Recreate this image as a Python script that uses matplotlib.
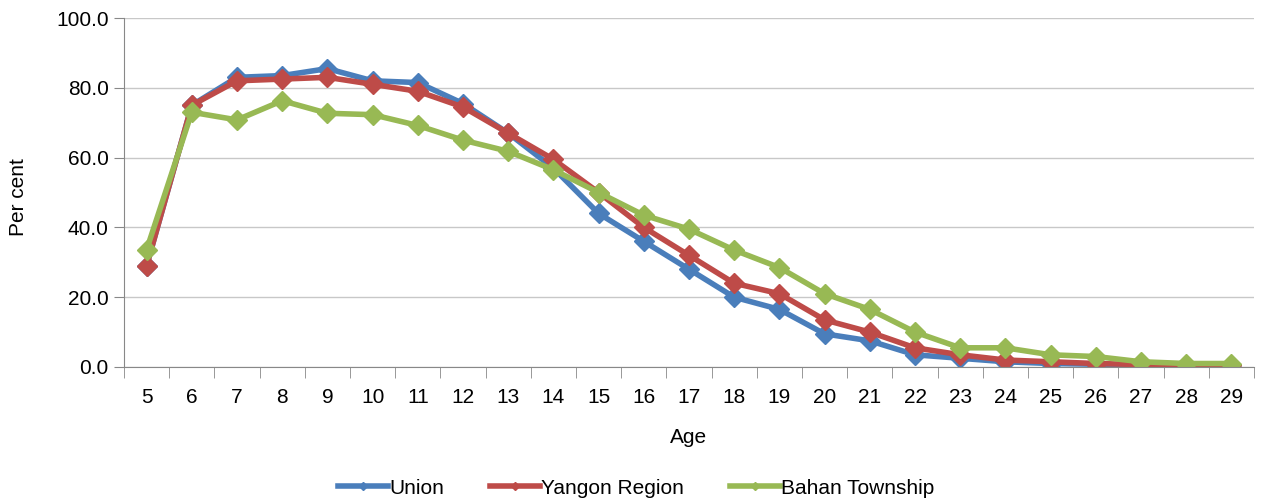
import numpy as np
import matplotlib.pyplot as plt
from matplotlib.ticker import MultipleLocator, FixedLocator

plt.rcParams['font.family'] = ['Liberation Sans', 'DejaVu Sans']

ages = list(range(5, 30))
union = [29.0, 75.0, 83.0, 83.5, 85.5, 82.0, 81.5, 75.5, 67.0, 57.0, 44.0, 36.0, 28.0,
         20.0, 16.5, 9.5, 7.5, 3.5, 2.5, 1.5, 1.0, 0.8, 0.5, 0.5, 0.5]
yangon = [29.0, 75.0, 82.0, 82.5, 83.0, 81.0, 79.0, 74.5, 67.0, 59.5, 50.0, 40.0, 32.0,
          24.0, 21.0, 13.5, 10.0, 5.5, 3.5, 2.0, 1.5, 1.0, 0.7, 0.5, 0.5]
bahan = [33.6, 73.0, 70.8, 76.3, 72.7, 72.3, 69.2, 65.0, 61.8, 56.5, 50.0, 43.5, 39.5,
         33.5, 28.5, 21.0, 16.5, 10.0, 5.5, 5.5, 3.5, 3.0, 1.5, 1.0, 1.0]

series = [("Union", union, "#4A7EBB"),
          ("Yangon Region", yangon, "#BE4B48"),
          ("Bahan Township", bahan, "#98B954")]

fs = 15
fig = plt.figure(figsize=(12.65, 5.04), dpi=100)
ax = fig.add_axes([124 / 1265, 1 - 367 / 504, 1130 / 1265, 349 / 504])

for name, vals, col in series:
    ax.plot(ages, vals, color=col, lw=4, marker="D", ms=10, mec=col, mfc=col, label=name)

ax.set_xlim(4.5, 29.5)
ax.set_ylim(0, 100)
ax.yaxis.set_major_locator(MultipleLocator(20))
ax.set_yticklabels([f"{v:.1f}" for v in ax.get_yticks()])
ax.set_xticks(ages)
ax.xaxis.set_minor_locator(FixedLocator(np.arange(4.5, 30, 1)))
ax.tick_params(axis="x", which="major", length=0, labelsize=fs, pad=15)
ax.tick_params(axis="x", which="minor", length=8, color="#888888")
ax.tick_params(axis="y", length=7, color="#888888", labelsize=fs, pad=4)
ax.grid(axis="y", color="#c8c8c8", lw=1)
ax.set_axisbelow(True)
for s in ["top", "right"]:
    ax.spines[s].set_visible(False)
for s in ["left", "bottom"]:
    ax.spines[s].set_color("#888888")

ax.set_xlabel("Age", fontsize=fs, labelpad=15)
fig.text(19 / 1265, 1 - 197 / 504, "Per cent", rotation=90, ha="center", va="center",
         fontsize=fs)

ax.legend(loc="center", bbox_to_anchor=(0.503, 1 - 488 / 504), bbox_transform=fig.transFigure,
          ncol=3, frameon=False, fontsize=fs, markerscale=0.45, handlelength=2.4,
          columnspacing=2.2, handletextpad=0.05)

fig.savefig("out.png", dpi=100)
